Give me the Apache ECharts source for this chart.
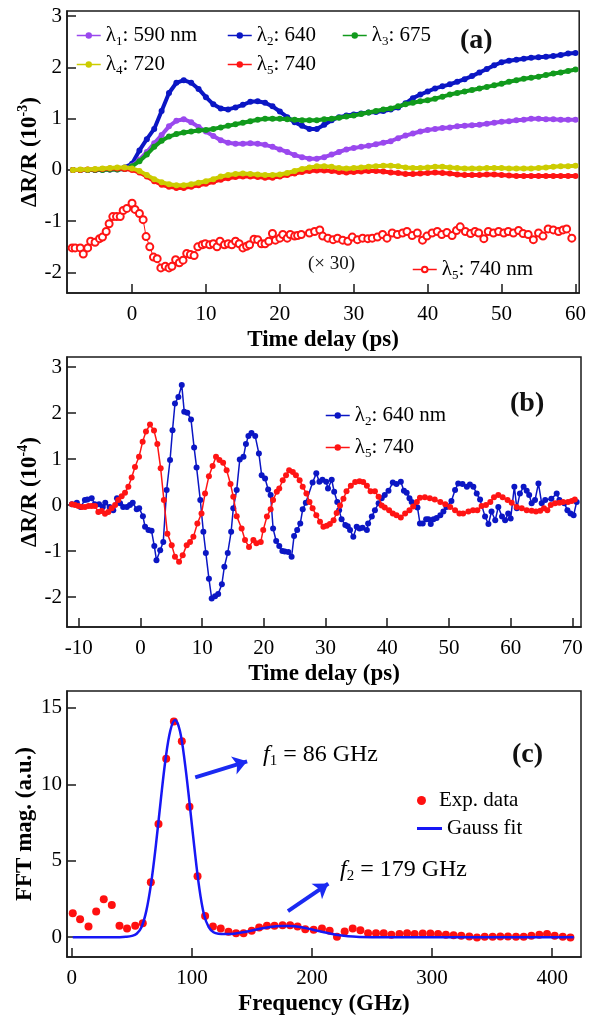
<!DOCTYPE html>
<html><head><meta charset="utf-8">
<script src="https://cdn.jsdelivr.net/npm/echarts@6/dist/echarts.min.js"></script>
<style>html,body{margin:0;padding:0;background:#fff}#c{width:589px;height:1017px}</style>
</head><body><div id="c"></div>
<script>
// ---------- Panel (a) ----------
const tA = [-8,-7,-6,-5,-4,-3,-2,-1,0,1,2,3,4,5,6,7,8,9,10,11,12,13,14,15,16,17,18,19,20,21,22,23,24,25,26,27,28,29,30,31,32,33,34,35,36,37,38,39,40,41,42,43,44,45,46,47,48,49,50,51,52,53,54,55,56,57,58,59,60];
const a1 = [0,0,0,0,0,0.01,0.01,0.02,0.08,0.2,0.35,0.52,0.68,0.85,0.96,0.99,0.93,0.84,0.75,0.66,0.58,0.53,0.51,0.51,0.52,0.51,0.49,0.45,0.4,0.35,0.29,0.25,0.22,0.22,0.25,0.3,0.35,0.4,0.43,0.45,0.47,0.5,0.53,0.56,0.62,0.67,0.71,0.75,0.78,0.8,0.82,0.83,0.85,0.86,0.87,0.88,0.9,0.92,0.94,0.95,0.97,0.98,1.0,1.0,0.99,0.99,0.98,0.98,0.98];
const a2 = [0,0,0,0,0.01,0.01,0.02,0.05,0.12,0.38,0.6,0.8,1.15,1.5,1.7,1.75,1.7,1.58,1.42,1.28,1.2,1.18,1.22,1.27,1.33,1.34,1.31,1.24,1.14,1.03,0.93,0.86,0.8,0.8,0.88,0.97,1.03,1.06,1.08,1.1,1.12,1.13,1.15,1.18,1.22,1.3,1.4,1.47,1.53,1.59,1.63,1.67,1.72,1.77,1.83,1.9,1.97,2.04,2.1,2.13,2.15,2.17,2.19,2.2,2.21,2.22,2.24,2.27,2.28];
const a3 = [0,0,0,0,0,0.01,0.01,0.02,0.07,0.17,0.3,0.45,0.57,0.65,0.7,0.73,0.75,0.77,0.78,0.8,0.83,0.86,0.89,0.92,0.95,0.98,1.0,1.0,1.0,0.99,0.98,0.97,0.97,0.97,0.99,1.0,1.02,1.04,1.06,1.09,1.12,1.15,1.18,1.2,1.24,1.28,1.31,1.34,1.36,1.39,1.43,1.47,1.5,1.53,1.56,1.59,1.62,1.65,1.68,1.72,1.75,1.78,1.8,1.82,1.85,1.88,1.9,1.93,1.96];
const a4 = [0,0.01,0.01,0.02,0.03,0.04,0.05,0.05,0.03,-0.02,-0.1,-0.18,-0.24,-0.28,-0.3,-0.3,-0.28,-0.25,-0.22,-0.18,-0.13,-0.1,-0.08,-0.07,-0.08,-0.09,-0.1,-0.1,-0.09,-0.06,-0.02,0.02,0.05,0.07,0.07,0.06,0.04,0.03,0.04,0.05,0.06,0.07,0.08,0.08,0.07,0.05,0.04,0.04,0.05,0.06,0.06,0.05,0.04,0.03,0.03,0.03,0.04,0.04,0.04,0.03,0.03,0.03,0.03,0.04,0.05,0.06,0.07,0.07,0.08];
const a5 = [0,0,0.01,0.01,0.02,0.03,0.03,0.02,0.0,-0.05,-0.13,-0.22,-0.29,-0.33,-0.35,-0.35,-0.33,-0.3,-0.27,-0.23,-0.19,-0.16,-0.14,-0.13,-0.13,-0.14,-0.15,-0.15,-0.13,-0.1,-0.07,-0.04,-0.02,-0.01,-0.01,-0.02,-0.04,-0.05,-0.04,-0.03,-0.02,-0.02,-0.03,-0.05,-0.06,-0.08,-0.08,-0.07,-0.06,-0.05,-0.06,-0.07,-0.09,-0.1,-0.1,-0.1,-0.09,-0.09,-0.1,-0.11,-0.12,-0.12,-0.12,-0.12,-0.12,-0.12,-0.12,-0.12,-0.12];
// lambda5 x 30 (hollow circles)
const tH = [-8.1,-7.7,-7.0,-6.6,-6.0,-5.6,-5.0,-4.4,-4.0,-3.5,-3.1,-2.6,-2.1,-1.6,-1.2,-0.7,0,0.4,1.0,1.5,1.9,2.4,2.9,3.4,3.9,4.5,5.0,5.4,5.9,6.4,6.9,7.4,7.9,8.4,8.9,9.5,9.9,10.5,11.0,11.5,11.9,12.5,13.0,13.5,14.0,14.5,15.0,15.5,15.9,16.5,17.0,17.5,18.0,18.5,19.0,19.4,20.0,20.4,21.0,21.4,22.0,22.4,22.9,24.0,24.7,25.4,25.8,26.5,27.2,27.8,28.5,29.2,29.8,30.5,31.2,31.9,32.5,33.2,33.9,34.5,35.2,35.9,36.6,37.2,37.9,38.6,39.3,39.9,40.6,41.3,41.9,42.6,43.3,43.9,44.4,45.1,45.8,46.4,46.9,47.6,48.2,48.9,49.6,50.3,50.9,51.6,52.3,52.9,53.6,54.3,55.0,55.6,56.3,57.0,57.7,58.3,58.8,59.5];
const hV = [-1.52,-1.52,-1.52,-1.64,-1.52,-1.39,-1.41,-1.34,-1.31,-1.2,-1.05,-0.91,-0.91,-0.91,-0.79,-0.75,-0.65,-0.77,-0.85,-0.97,-1.3,-1.5,-1.7,-1.73,-1.91,-1.88,-1.91,-1.88,-1.75,-1.81,-1.76,-1.63,-1.65,-1.67,-1.5,-1.46,-1.44,-1.46,-1.44,-1.5,-1.39,-1.46,-1.44,-1.46,-1.39,-1.44,-1.52,-1.49,-1.46,-1.35,-1.36,-1.44,-1.44,-1.39,-1.24,-1.37,-1.33,-1.26,-1.33,-1.26,-1.29,-1.28,-1.26,-1.23,-1.2,-1.17,-1.29,-1.33,-1.36,-1.33,-1.37,-1.39,-1.31,-1.36,-1.33,-1.34,-1.33,-1.31,-1.26,-1.33,-1.23,-1.26,-1.23,-1.2,-1.28,-1.23,-1.37,-1.29,-1.23,-1.2,-1.26,-1.22,-1.28,-1.18,-1.11,-1.2,-1.24,-1.2,-1.23,-1.34,-1.2,-1.23,-1.2,-1.23,-1.2,-1.23,-1.18,-1.24,-1.26,-1.36,-1.23,-1.29,-1.15,-1.17,-1.2,-1.17,-1.15,-1.33];
const ticksAx = [0,10,20,30,40,50,60];
const ticksAy = [-2,-1,0,1,2,3];

// ---------- Panel (b) ----------
const tB2 = [-11.1,-10.3,-9.7,-9.0,-8.6,-7.9,-7.4,-6.7,-6.1,-5.7,-5.0,-4.4,-3.8,-3.3,-2.8,-2.2,-1.7,-1.25,-0.6,-0.2,0.4,0.75,1.3,1.8,2.25,2.6,3.2,3.7,4.25,4.8,5.2,5.6,6.15,6.7,7.1,7.6,8.2,8.7,9.1,9.7,10.2,10.6,11.1,11.55,12.1,12.6,13.2,13.6,14.15,14.7,15.05,15.6,16.1,16.7,17.1,17.5,18.0,18.6,19.2,19.65,20.2,20.7,21.1,21.5,22.0,22.5,23.0,23.4,23.97,24.5,24.9,25.4,25.9,26.3,26.8,27.9,28.5,29.0,29.5,30.1,30.4,31.0,31.4,31.9,32.2,32.6,33.2,33.6,33.97,34.5,35.05,35.5,36.0,36.7,36.9,37.5,38.0,38.6,39.1,39.6,40.2,40.9,41.5,42.2,42.7,43.15,43.6,43.96,44.4,44.9,45.3,45.75,46.3,46.67,47.05,47.5,48.0,48.6,49.1,49.6,50.4,50.99,51.5,52.2,52.9,53.4,53.96,54.5,55.04,55.85,56.4,56.9,57.5,58.0,58.6,59.1,59.6,60.0,60.6,61.0,61.5,62.1,62.6,63.0,63.4,63.95,64.5,65.03,65.6,66.6,67.46,67.9,68.7,69.2,69.7,70.2,70.7];
const b2 = [0.02,0.05,-0.04,0.11,0.12,0.15,0.02,0.02,-0.04,0.05,-0.04,-0.11,0.15,0.04,-0.04,-0.04,0.0,0.05,-0.09,-0.07,-0.24,-0.47,-0.54,-0.56,-0.89,-1.2,-0.98,-0.8,0.33,0.98,1.63,2.21,2.35,2.61,2.03,2.01,1.86,1.25,0.82,0.11,-0.58,-1.04,-1.6,-2.03,-1.98,-1.93,-1.72,-1.34,-1.04,-0.58,-0.07,0.33,0.99,1.05,1.33,1.5,1.57,1.5,1.12,0.65,0.58,0.34,0.22,-0.51,-0.78,-0.89,-1.0,-1.01,-1.02,-1.12,-0.67,-0.54,-0.4,-0.09,0.05,0.49,0.69,0.51,0.55,0.51,0.36,0.55,0.29,0.07,-0.11,-0.31,-0.43,-0.46,-0.54,-0.69,-0.47,-0.51,-0.49,-0.54,-0.4,-0.25,-0.11,0.04,0.15,0.22,0.31,0.49,0.46,0.51,0.31,0.27,0.15,0.07,0.0,-0.05,-0.4,-0.4,-0.31,-0.31,-0.41,-0.31,-0.28,-0.22,-0.14,-0.04,0.09,0.33,0.47,0.46,0.40,0.45,0.40,0.25,0.12,-0.25,-0.41,-0.14,-0.33,-0.04,-0.25,-0.33,-0.18,-0.29,0.40,-0.07,0.25,0.40,0.31,0.22,0.04,0.11,0.47,0.04,0.11,0.14,0.25,0.11,0.04,-0.11,-0.18,-0.22,0.07];
const tB5 = [-11.1,-10.6,-10.06,-9.5,-8.98,-8.4,-7.9,-7.36,-6.82,-6.28,-5.74,-5.2,-4.66,-4.1,-3.6,-3.04,-2.5,-1.96,-1.42,-0.88,-0.23,0.36,0.9,1.55,2.2,2.74,3.28,3.8,4.37,5.07,5.6,6.26,6.85,7.5,8.04,8.58,9.23,9.9,10.47,11.1,11.7,12.25,12.8,13.4,13.97,14.6,15.05,15.6,16.4,16.95,17.6,18.3,18.8,19.5,19.9,20.5,21.1,21.5,22.1,22.5,23.06,23.6,24.1,24.7,25.2,25.8,26.3,26.9,27.4,27.9,28.5,29.1,29.65,30.2,30.7,31.3,31.8,32.35,32.9,33.4,34.1,34.8,35.5,36.1,36.7,37.3,38.0,38.6,39.1,39.6,40.3,40.9,41.5,42.2,42.9,43.6,44.2,44.8,45.3,46.1,46.9,47.7,48.6,49.4,50.2,50.99,51.7,52.3,53.15,53.9,54.6,55.3,56.0,56.7,57.3,58.0,58.7,59.5,60.17,60.98,61.8,62.6,63.4,64.1,64.8,65.4,65.95,66.5,67.2,67.9,68.5,69.3,69.9,70.4];
const b5 = [0.02,0.0,-0.02,-0.04,-0.04,-0.02,-0.02,-0.02,-0.15,-0.13,-0.19,-0.15,-0.07,0.0,0.11,0.19,0.27,0.4,0.6,0.83,1.05,1.38,1.6,1.75,1.62,1.33,0.8,0.11,-0.62,-0.87,-1.12,-1.23,-1.09,-0.87,-0.8,-0.69,-0.4,-0.18,0.25,0.63,0.85,1.05,0.98,0.92,0.76,0.46,0.18,-0.24,-0.51,-0.76,-0.91,-0.76,-0.83,-0.8,-0.54,-0.25,-0.09,0.11,0.29,0.36,0.54,0.65,0.76,0.72,0.65,0.54,0.40,0.25,0.07,-0.07,-0.22,-0.36,-0.47,-0.45,-0.41,-0.33,-0.17,-0.01,0.14,0.30,0.42,0.50,0.52,0.5,0.42,0.30,0.30,0.18,-0.01,-0.05,-0.11,-0.18,-0.22,-0.27,-0.18,-0.11,-0.03,0.07,0.16,0.17,0.15,0.12,0.07,0.02,-0.04,-0.11,-0.18,-0.18,-0.14,-0.11,-0.11,-0.02,0.0,0.07,0.17,0.22,0.17,0.11,0.05,-0.04,-0.07,-0.11,-0.12,-0.14,-0.12,-0.07,-0.11,0.0,0.04,0.05,0.07,0.07,0.09,0.12];
const ticksBx = [-10,0,10,20,30,40,50,60,70];
const ticksBy = [-2,-1,0,1,2,3];

// ---------- Panel (c) ----------
const fExp = [0.8,6.9,13.9,20.3,26.6,33.3,39.7,46,52.8,59.1,65.8,72.2,78.6,85,91.6,98,104.7,111,117.5,124,130.5,136.8,143,149.8,156,162.5,168.8,175.5,181.8,188,194.4,201.4,208.3,214.7,220.8,227.2,233.9,240.3,246.7,253.3,259.7,266.1,272.8,279.2,285.5,292.2,298.6,305,311.5,317.9,324.3,331,337.4,343.8,350.4,356.8,363.2,369.9,376.3,382.7,389.3,395.7,402.1,408.8,415.2];
const cExp = [1.56,1.17,0.69,1.67,2.47,2.1,0.74,0.56,0.74,0.91,3.59,7.4,11.67,14.11,12.81,8.53,3.98,1.38,0.69,0.56,0.35,0.26,0.26,0.41,0.63,0.74,0.74,0.78,0.78,0.69,0.52,0.48,0.56,0.41,0.02,0.37,0.56,0.45,0.26,0.26,0.26,0.15,0.2,0.26,0.2,0.24,0.24,0.2,0.15,0.13,0.09,0.04,-0.02,0.02,0.02,0.04,0.04,0.02,0.02,0.09,0.15,0.2,0.09,0.02,-0.02];
const fFit = [0.8,20,40,45,50,54,58,62,66,70,74,78,82,86,90,94,98,102,106,110,114,118,122,128,135,145,155,165,175,182,190,200,210,220,230,240,250,300,350,418];
const cFit = [0,0,0,0.02,0.08,0.22,0.65,1.7,3.5,6.0,8.9,11.6,13.5,14.2,13.5,11.5,8.8,5.9,3.3,1.5,0.65,0.32,0.22,0.2,0.22,0.35,0.52,0.66,0.72,0.72,0.66,0.5,0.32,0.15,0.05,0.01,0,0,0,0];
const ticksCx = [0,100,200,300,400];
const ticksCy = [0,5,10,15];

const SERIF = "'Liberation Serif','DejaVu Serif',serif";
const zip = (xs, ys) => xs.map((x, i) => [x, ys[i]]);
const AX = '#1a1a1a';

function xAx(gi, min, max, ticks, name) {
  return {type:'value', gridIndex:gi, min:min, max:max, name:name, nameLocation:'middle', nameGap:36,
    nameMoveOverlap:false,
    nameTextStyle:{fontFamily:SERIF, fontWeight:'bold', fontSize:23, color:'#000'},
    axisLine:{show:true, onZero:false, lineStyle:{color:AX, width:1.5}},
    axisTick:{show:true, inside:true, length:9, customValues:ticks, lineStyle:{color:AX, width:1.5}},
    axisLabel:{customValues:ticks, margin:11, fontFamily:SERIF, fontSize:21, color:'#000'},
    splitLine:{show:false}};
}
function yAx(gi, min, max, ticks, name, gap, rich) {
  return {type:'value', gridIndex:gi, min:min, max:max, name:name, nameLocation:'middle', nameGap:gap,
    nameMoveOverlap:false,
    nameTextStyle:{fontFamily:SERIF, fontWeight:'bold', fontSize:23, color:'#000', rich:rich},
    axisLine:{show:true, onZero:false, lineStyle:{color:AX, width:1.5}},
    axisTick:{show:true, inside:true, length:9, customValues:ticks, lineStyle:{color:AX, width:1.5}},
    axisLabel:{customValues:ticks, margin:5, fontFamily:SERIF, fontSize:21, color:'#000'},
    splitLine:{show:false}};
}
const nameRich = {
  b:{fontFamily:SERIF, fontWeight:'bold', fontSize:23, color:'#000', lineHeight:28},
  p:{fontFamily:SERIF, fontWeight:'bold', fontSize:14, color:'#000', verticalAlign:'top', lineHeight:28}
};
const legRich = {
  g:{fontFamily:SERIF, fontSize:21, color:'#000', lineHeight:26},
  s:{fontFamily:SERIF, fontSize:13, color:'#000', lineHeight:26, verticalAlign:'bottom'}
};
function lamFmt(name) {
  const m = name.match(/^λ(\d)(.*)$/);
  return m ? '{g|λ}{s|' + m[1] + '}{g|' + m[2] + '}' : '{g|' + name + '}';
}
function leg(data, left, top, extra) {
  return Object.assign({data:data, left:left, top:top, padding:0, itemWidth:24, itemHeight:8,
    formatter:lamFmt, textStyle:{rich:legRich}, lineStyle:{width:1.5}, selectedMode:false}, extra || {});
}
const dense = (name, data, color, z) => ({name:name, type:'line', xAxisIndex:0, yAxisIndex:0, data:data,
  symbol:'circle', symbolSize:6, showSymbol:true, lineStyle:{color:color, width:4}, itemStyle:{color:color}, z:z});

const C1='#9a48ee', C2='#0b16c4', C3='#119a1c', C4='#cccc00', C5='#ff1414';
const CF='#1717f5';
const option = {
  animation:false,
  backgroundColor:'#fff',
  grid:[
    {left:67, top:11, width:514, height:282, show:true, borderColor:AX, borderWidth:1.5},
    {left:67, top:357, width:514, height:270, show:true, borderColor:AX, borderWidth:1.5},
    {left:67, top:691, width:514, height:267, show:true, borderColor:AX, borderWidth:1.5}
  ],
  xAxis:[
    xAx(0, -8.8, 60.5, ticksAx, 'Time delay (ps)'),
    xAx(1, -11.9, 71.4, ticksBx, 'Time delay (ps)'),
    xAx(2, -4, 424, ticksCx, 'Frequency (GHz)')
  ],
  yAxis:[
    yAx(0, -2.4, 3.1, ticksAy, '{b|ΔR/R (10}{p|-3}{b|)}', 23, nameRich),
    yAx(1, -2.65, 3.22, ticksBy, '{b|ΔR/R (10}{p|-4}{b|)}', 23, nameRich),
    yAx(2, -1.3, 16.1, ticksCy, 'FFT mag. (a.u.)', 30, null)
  ],
  legend:[
    leg(['λ1: 590 nm'], 76, 25),
    leg(['λ2: 640'], 227, 25),
    leg(['λ3: 675'], 342, 25),
    leg(['λ4: 720'], 76, 54),
    leg(['λ5: 740'], 227, 54),
    leg(['λ5: 740 nm '], 412, 259, {itemHeight:7}),
    leg(['λ2: 640 nm'], 325, 405),
    leg(['λ5: 740 '], 325, 437),
    leg(['Exp. data'], 417, 790, {itemWidth:25, itemHeight:9}),
    leg([{name:'Gauss fit', icon:'rect'}], 417, 818, {itemWidth:25, itemHeight:3})
  ],
  series:[
    dense('λ1: 590 nm', zip(tA, a1), C1, 3),
    dense('λ2: 640', zip(tA, a2), C2, 2),
    dense('λ3: 675', zip(tA, a3), C3, 4),
    dense('λ5: 740', zip(tA, a5), C5, 5),
    dense('λ4: 720', zip(tA, a4), C4, 6),
    {name:'λ5: 740 nm ', type:'line', xAxisIndex:0, yAxisIndex:0, data:zip(tH, hV), symbol:'emptyCircle', symbolSize:7,
      lineStyle:{color:C5, width:1}, itemStyle:{color:C5, borderColor:C5, borderWidth:1}},
    {name:'λ2: 640 nm', type:'line', xAxisIndex:1, yAxisIndex:1, data:zip(tB2, b2), symbol:'circle', symbolSize:6,
      lineStyle:{color:C2, width:1.5}, itemStyle:{color:C2}, z:3},
    {name:'λ5: 740 ', type:'line', xAxisIndex:1, yAxisIndex:1, data:zip(tB5, b5), symbol:'circle', symbolSize:6,
      lineStyle:{color:C5, width:1.5}, itemStyle:{color:C5}, z:4},
    {name:'Exp. data', type:'scatter', xAxisIndex:2, yAxisIndex:2, data:zip(fExp, cExp), symbol:'circle', symbolSize:8,
      itemStyle:{color:'#ff1010', opacity:1}, z:3},
    {name:'Gauss fit', type:'line', xAxisIndex:2, yAxisIndex:2, data:zip(fFit, cFit), symbol:'none', smooth:0.35,
      lineStyle:{color:CF, width:2.5}, itemStyle:{color:CF}, z:4,
      markLine:{silent:true, symbol:['none','arrow'], symbolSize:14, animation:false,
        lineStyle:{color:'#1a2af2', width:4, type:'solid'}, label:{show:false},
        data:[[{coord:[102.8,10.45]},{coord:[146,11.5]}],[{coord:[180,1.7]},{coord:[213.6,3.5]}]]}}
  ],
  graphic:[
    {type:'text', left:460, top:27, style:{text:'(a)', font:'bold 28px ' + SERIF, fill:'#111'}},
    {type:'text', left:510, top:390, style:{text:'(b)', font:'bold 28px ' + SERIF, fill:'#111'}},
    {type:'text', left:512, top:741, style:{text:'(c)', font:'bold 28px ' + SERIF, fill:'#111'}},
    {type:'text', left:308, top:255, style:{text:'(× 30)', font:'19px ' + SERIF, fill:'#111'}},
    {type:'text', left:263, top:743, style:{text:'{i|f}{s|1}{n| = 86 GHz}',
      rich:{i:{fontFamily:SERIF, fontStyle:'italic', fontSize:24, lineHeight:28},
            s:{fontFamily:SERIF, fontSize:15, lineHeight:28, verticalAlign:'bottom'},
            n:{fontFamily:SERIF, fontSize:24, lineHeight:28}}}},
    {type:'text', left:340, top:858, style:{text:'{i|f}{s|2}{n| = 179 GHz}',
      rich:{i:{fontFamily:SERIF, fontStyle:'italic', fontSize:24, lineHeight:28},
            s:{fontFamily:SERIF, fontSize:15, lineHeight:28, verticalAlign:'bottom'},
            n:{fontFamily:SERIF, fontSize:24, lineHeight:28}}}}
  ]
};
const chart = echarts.init(document.getElementById('c'), null, {renderer:'canvas'});
chart.setOption(option);
</script>
</body></html>
